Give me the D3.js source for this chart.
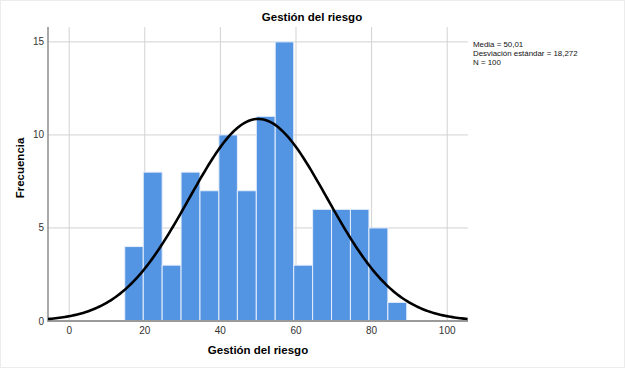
<!DOCTYPE html>
<html>
<head>
<meta charset="utf-8">
<script src="https://cdn.jsdelivr.net/npm/d3@7"></script>
<style>
  body { margin: 0; background: #fff; }
  svg { display: block; font-family: "Liberation Sans", Arial, sans-serif; }
</style>
</head>
<body>
<div id="chart"></div>
<script>
// histogram bins (edges) and counts
const binEdges = [14.7, 19.6, 24.6, 29.6, 34.6, 39.6, 44.5, 49.5, 54.5, 59.4, 64.4, 69.4, 74.4, 79.3, 84.3, 89.3];
const counts = [4, 8, 3, 8, 7, 10, 7, 11, 15, 3, 6, 6, 6, 5, 1];
const xTicks = [0, 20, 40, 60, 80, 100];
const yTicks = [0, 5, 10, 15];
const stats = { mean: 50.01, sd: 18.272, n: 100 };
const statLines = ["Media = 50,01", "Desviación estándar = 18,272", "N = 100"];

const width = 625, height = 368;
const pad = { l: 48, r: 157, t: 27, b: 47 };

const svg = d3.select("#chart").append("svg").attr("width", width).attr("height", height);

svg.append("rect")
  .attr("x", 0.5).attr("y", 0.5)
  .attr("width", width - 1).attr("height", height - 1)
  .attr("fill", "#fff").attr("stroke", "#ececec");

const x = d3.scaleLinear().domain([-5.6, 105.5]).range([pad.l, width - pad.r]);
const y = d3.scaleLinear().domain([0, 15.8]).range([height - pad.b, pad.t]);

// grid
const grid = svg.append("g");
grid.selectAll("line.v").data(xTicks).join("line")
  .attr("x1", (d) => x(d)).attr("x2", (d) => x(d))
  .attr("y1", pad.t).attr("y2", height - pad.b)
  .attr("stroke", "#d2d2d2").attr("stroke-width", 1);
grid.selectAll("line.h").data(yTicks.filter((d) => d > 0)).join("line")
  .attr("x1", pad.l).attr("x2", width - pad.r)
  .attr("y1", (d) => y(d)).attr("y2", (d) => y(d))
  .attr("stroke", "#d2d2d2").attr("stroke-width", 1);

// bars
svg.append("g").selectAll("rect").data(counts).join("rect")
  .attr("x", (d, i) => x(binEdges[i]))
  .attr("width", (d, i) => x(binEdges[i + 1]) - x(binEdges[i]))
  .attr("y", (d) => y(d))
  .attr("height", (d) => y(0) - y(d))
  .attr("fill", "#5394e3")
  .attr("stroke", "#e6eefa").attr("stroke-width", 1);

// axes
svg.append("line")
  .attr("x1", pad.l).attr("x2", pad.l).attr("y1", pad.t).attr("y2", y(0) + 1)
  .attr("stroke", "#8c8c8c").attr("stroke-width", 1.5);
svg.append("line")
  .attr("x1", pad.l).attr("x2", width - pad.r).attr("y1", y(0)).attr("y2", y(0))
  .attr("stroke", "#9a9a9a").attr("stroke-width", 2);

svg.append("g").selectAll("text").data(yTicks).join("text")
  .attr("x", pad.l - 4).attr("y", (d) => y(d) + 3.5)
  .attr("text-anchor", "end").attr("font-size", 10).attr("fill", "#333")
  .text((d) => d);
svg.append("g").selectAll("text").data(xTicks).join("text")
  .attr("x", (d) => x(d)).attr("y", y(0) + 13)
  .attr("text-anchor", "middle").attr("font-size", 10).attr("fill", "#333")
  .text((d) => d);

// normal curve from the stated mean / sd / N
const binW = (binEdges[binEdges.length - 1] - binEdges[0]) / counts.length;
const normal = (v) => stats.n * binW * Math.exp(-0.5 * ((v - stats.mean) / stats.sd) ** 2) / (stats.sd * Math.sqrt(2 * Math.PI));
const curveX = d3.range(x.domain()[0], x.domain()[1] + 0.01, 0.5);
svg.append("path")
  .datum(curveX)
  .attr("d", d3.line().x((d) => x(d)).y((d) => y(normal(d))))
  .attr("fill", "none").attr("stroke", "#000").attr("stroke-width", 2.6);

// titles
svg.append("text")
  .attr("x", 312).attr("y", 21)
  .attr("text-anchor", "middle").attr("font-size", 11.5).attr("font-weight", "bold")
  .text("Gestión del riesgo");
svg.append("text")
  .attr("x", (x.range()[0] + x.range()[1]) / 2).attr("y", 354)
  .attr("text-anchor", "middle").attr("font-size", 11.5).attr("font-weight", "bold")
  .text("Gestión del riesgo");
svg.append("text")
  .attr("transform", "translate(24, 168) rotate(-90)")
  .attr("text-anchor", "middle").attr("font-size", 11.5).attr("font-weight", "bold")
  .text("Frecuencia");

// stats box
svg.append("g").selectAll("text").data(statLines).join("text")
  .attr("x", 473).attr("y", (d, i) => 46.5 + i * 9.2)
  .attr("font-size", 7.9).attr("fill", "#111")
  .text((d) => d);
</script>
</body>
</html>
